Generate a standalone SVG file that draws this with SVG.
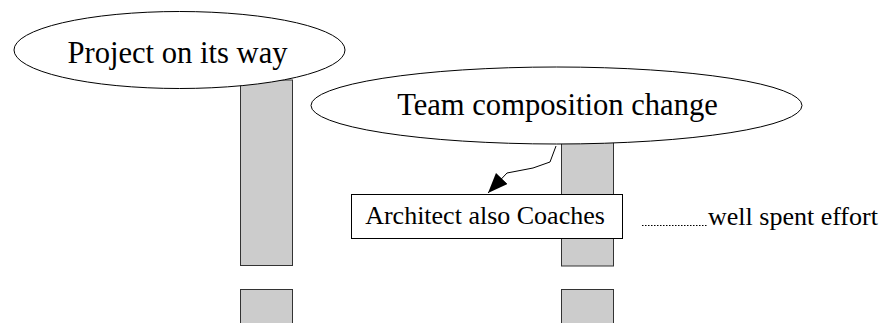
<svg xmlns="http://www.w3.org/2000/svg" width="884" height="323" viewBox="0 0 884 323">
  <style>
    .bar { fill: #cccccc; stroke: #333333; stroke-width: 1; }
    .oval { fill: #ffffff; stroke: #000000; stroke-width: 1; }
    .box { fill: #ffffff; stroke: #000000; stroke-width: 1; }
    .lbl { font-family: "Liberation Serif", "Times New Roman", serif; fill: #000000; }
    .big { font-size: 30.6px; }
    .small { font-size: 26px; }
  </style>
  <defs>
    <marker id="arrow" viewBox="0 0 20 16" refX="20" refY="8" markerWidth="20" markerHeight="16" markerUnits="userSpaceOnUse" orient="auto">
      <path d="M0,0 L20,8 L0,16 z" fill="#000000"/>
    </marker>
  </defs>

  <!-- lifeline bars -->
  <g id="lifeline-left">
    <rect class="bar" x="240.5" y="80" width="52" height="185.5"/>
    <rect class="bar" x="240.5" y="289.5" width="52" height="40"/>
  </g>
  <g id="lifeline-right">
    <rect class="bar" x="561.5" y="130" width="52" height="136"/>
    <rect class="bar" x="561.5" y="289.5" width="52" height="40"/>
  </g>

  <g id="project">
    <ellipse class="oval" cx="179.5" cy="50" rx="165.5" ry="38.5"/>
    <text class="lbl big" x="177.5" y="63" text-anchor="middle">Project on its way</text>
  </g>

  <g id="team-change">
    <ellipse class="oval" cx="556.5" cy="105.5" rx="245.5" ry="38.5"/>
    <text class="lbl big" x="557.5" y="115" text-anchor="middle">Team composition change</text>
  </g>

  <g id="architect">
    <rect class="box" x="351.5" y="194.5" width="271" height="44"/>
    <text class="lbl small" x="485" y="224" text-anchor="middle">Architect also Coaches</text>
  </g>

  <g id="effort">
    <line x1="642" y1="225.5" x2="708" y2="225.5" stroke="#000000" stroke-width="1" stroke-dasharray="1.5,1.5"/>
    <text class="lbl small" x="708" y="225">well spent effort</text>
  </g>

  <g id="connectors">
    <path d="M556,146 L550,162 L533,168 L507,173 L488,193" fill="none" stroke="#000000" stroke-width="1" stroke-linejoin="round" marker-end="url(#arrow)"/>
  </g>
</svg>
